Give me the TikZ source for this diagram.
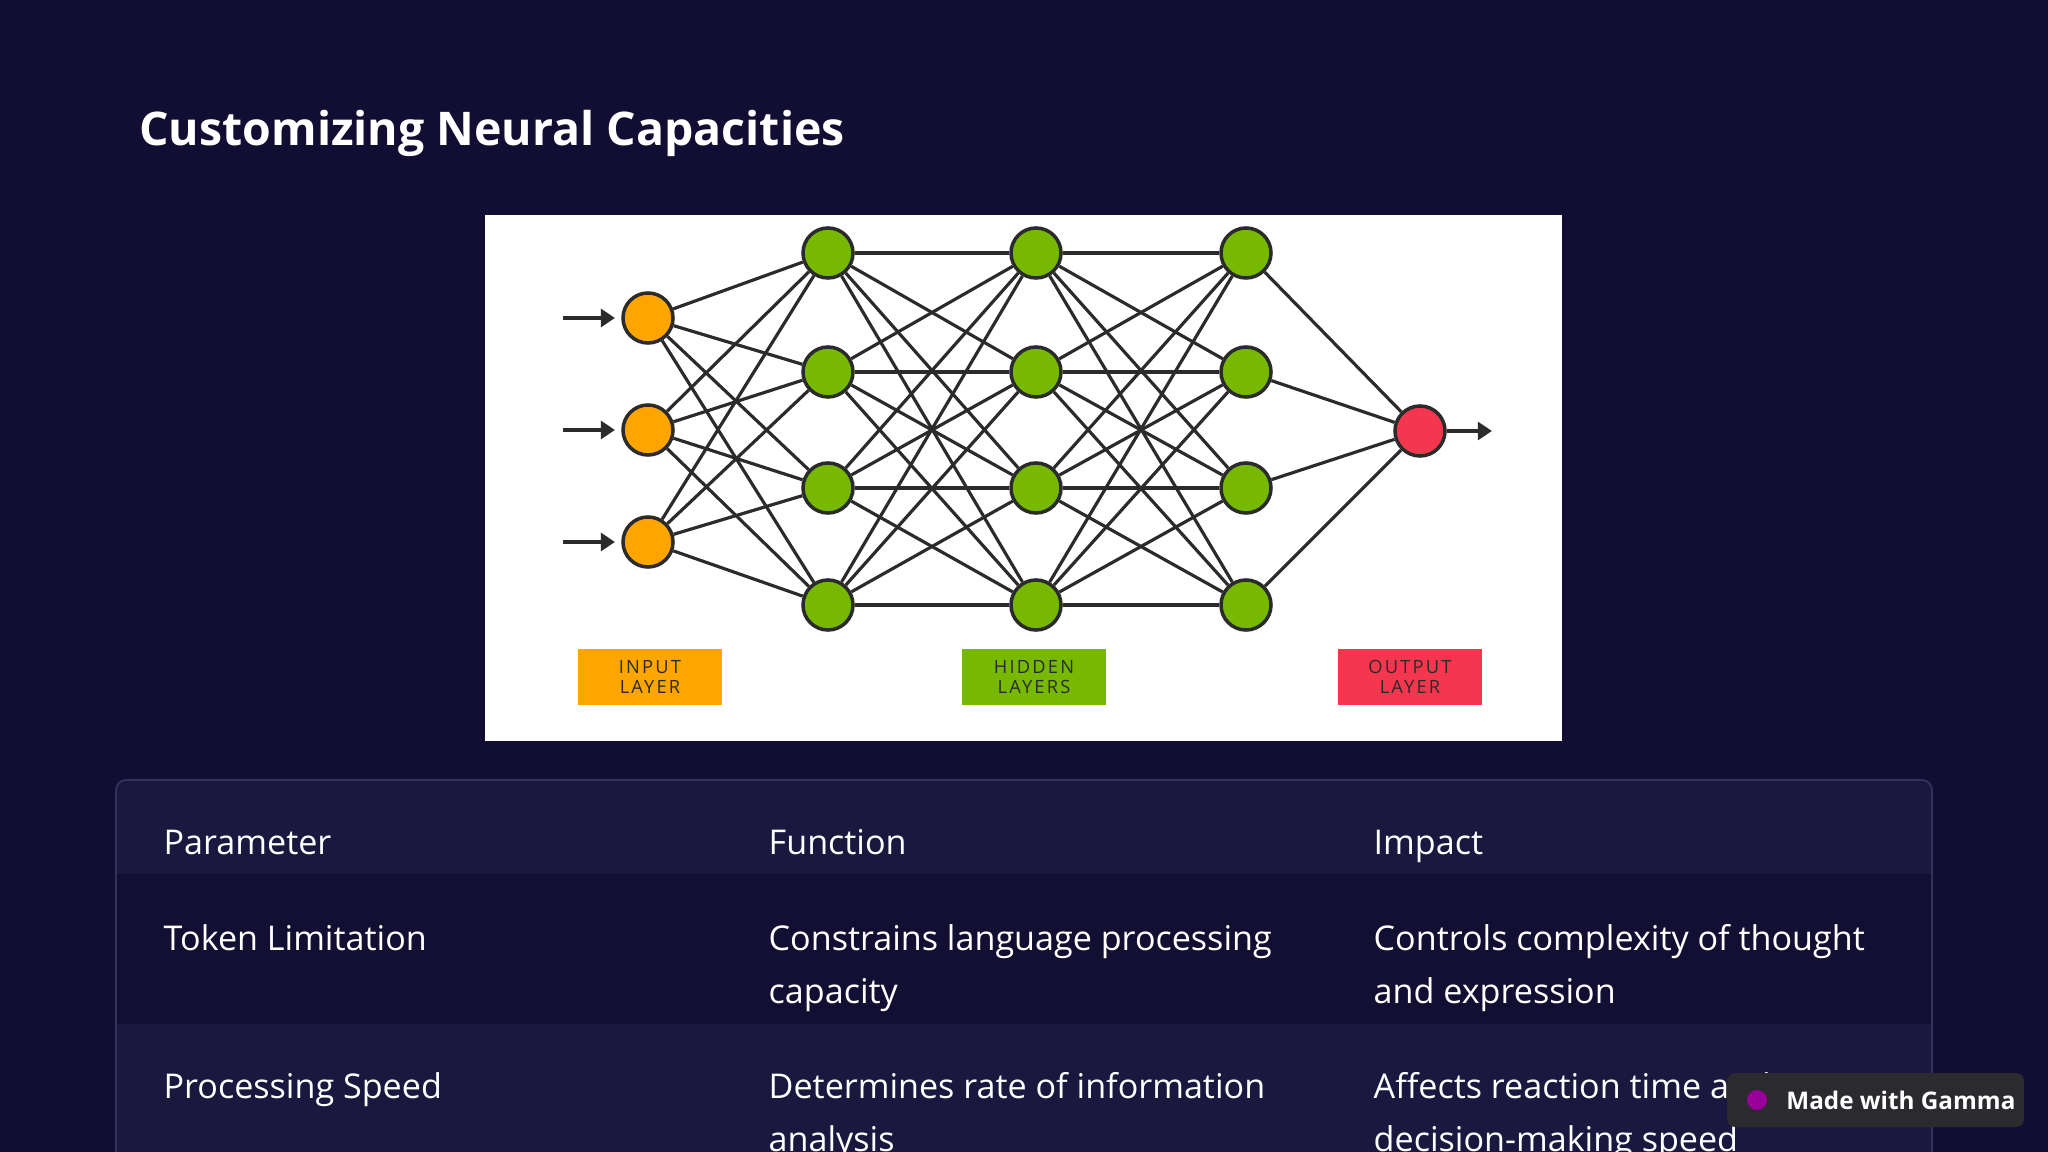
\documentclass[tikz,border=0pt]{standalone}
\usepackage{fontspec}
\setmainfont{Open Sans}
\usetikzlibrary{arrows.meta}
\definecolor{bg}{HTML}{110D33}
\definecolor{rowlight}{HTML}{1B1840}
\definecolor{rowdark}{HTML}{120F33}
\definecolor{tborder}{HTML}{34315A}
\definecolor{inorange}{HTML}{FFA500}
\definecolor{hidgreen}{HTML}{76B900}
\definecolor{outred}{HTML}{F5364F}
\definecolor{edge}{HTML}{2B2B2B}
\definecolor{badge}{HTML}{2B2A2F}
\tikzset{
  neuron/.style={circle, draw=edge, line width=1pt, minimum size=50\unit, inner sep=0pt},
  conn/.style={draw=edge, line width=0.9pt},
  io/.style={draw=edge, line width=1.4pt, -{Triangle[length=4pt,width=5pt]}},
  legend/.style={minimum width=143\unit, minimum height=56\unit, inner sep=0pt, align=center,
    text=edge, font=\fontsize{5.2}{5.6}\selectfont\addfontfeatures{LetterSpace=12}},
  cell/.style={anchor=north west, text=white, align=left, inner sep=0pt,
    font=\fontsize{9.7}{15}\selectfont},
}
\newcommand{\unit}{pt*0.2845}
\begin{document}
\begin{tikzpicture}[x=0.01cm, y=-0.01cm]
\useasboundingbox (0,0) rectangle (2048,1152);
\fill[bg] (0,0) rectangle (2048,1152);
% title
\node[anchor=west, text=white, font=\fontsize{13.2}{16}\selectfont\bfseries] (title) at (127,133) {Customizing Neural Capacities};
% picture panel
\fill[white] (485,215) rectangle (1562,741);
% neurons
\foreach \i/\y in {1/318,2/430,3/542} \node[neuron, fill=inorange] (i\i) at (648,\y) {};
\foreach \c/\x in {1/828,2/1036,3/1246}
  \foreach \j/\y in {1/253,2/372,3/488,4/605}
    \node[neuron, fill=hidgreen] (h\c\j) at (\x,\y) {};
\node[neuron, fill=outred] (o) at (1420,431) {};
% connections
\foreach \i in {1,2,3} \foreach \j in {1,...,4} \draw[conn] (i\i) -- (h1\j);
\foreach \a/\b in {1/2,2/3} \foreach \i in {1,...,4} \foreach \j in {1,...,4} \draw[conn] (h\a\i) -- (h\b\j);
\foreach \j in {1,...,4} \draw[conn] (h3\j) -- (o);
% input / output arrows
\foreach \i/\y in {1/318,2/430,3/542} {
  \coordinate (s\i) at (563,\y);
  \draw[io] (s\i) -- ++(52,0);
}
\coordinate (e) at (1492,431);
\draw[io] (o) -- (e);
% legend boxes
\node[legend, fill=inorange] (lin) at (650,677) {INPUT\\LAYER};
\node[legend, fill=hidgreen] (lhid) at (1034,677) {HIDDEN\\LAYERS};
\node[legend, fill=outred] (lout) at (1410,677) {OUTPUT\\LAYER};
% table
\begin{scope}
\clip[rounded corners=10\unit] (116,780) rectangle (1932,1200);
\fill[rowlight] (116,780) rectangle (1932,874);
\fill[rowdark] (116,874) rectangle (1932,1024);
\fill[rowlight] (116,1024) rectangle (1932,1200);
\end{scope}
\draw[tborder, line width=0.5pt, rounded corners=10\unit] (116,1200) -- (116,780) -- (1932,780) -- (1932,1200);
\node[cell] (h1) at (163,829) {Parameter};
\node[cell] (h2) at (768,829) {Function};
\node[cell] (h3) at (1373,829) {Impact};
\node[cell] (a1) at (163,924) {Token Limitation};
\node[cell] (a2) at (768,924) {Constrains language processing\\capacity};
\node[cell] (a3) at (1373,924) {Controls complexity of thought\\and expression};
\node[cell] (b1) at (163,1072) {Processing Speed};
\node[cell] (b2) at (768,1072) {Determines rate of information\\analysis};
\node[cell] (b3) at (1373,1072) {Affects reaction time and\\decision-making speed};
% badge
\fill[badge, rounded corners=8\unit] (1727,1073) rectangle (2024,1127);
\fill[violet!80!magenta] (1757,1100) circle (10);
\node[anchor=west, text=white, font=\fontsize{6.9}{9}\selectfont\bfseries] (gamma) at (1774,1100) {Made with Gamma};
\end{tikzpicture}
\end{document}
